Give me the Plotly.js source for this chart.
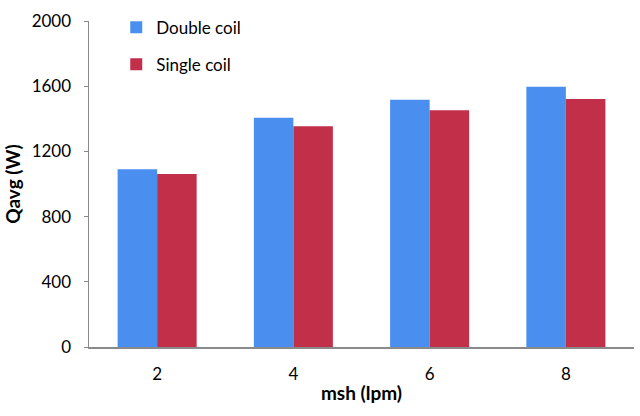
<!DOCTYPE html>
<html><head><meta charset="utf-8">
<script src="https://cdn.plot.ly/plotly-3.0.1.min.js"></script>
<style>html,body{margin:0;padding:0;background:#fff}</style>
</head><body>
<div id="chart" style="width:640px;height:416px"></div>
<script>
var categories = ['2', '4', '6', '8'];
var doubleCoil = [1090, 1407, 1517, 1597];
var singleCoil = [1062, 1354, 1452, 1521];
var yTicks = [0, 400, 800, 1200, 1600, 2000];

var font = 'Lato, Open Sans, sans-serif';
var data = [
  {type: 'bar', name: 'Double coil', x: categories, y: doubleCoil,
   marker: {color: '#4a8ff0'}, legendgroup: 'a'},
  {type: 'bar', name: 'Single coil', x: categories, y: singleCoil,
   marker: {color: '#c22f48'}, legendgroup: 'b'}
];
var layout = {
  width: 640, height: 416,
  margin: {l: 89, r: 6, t: 21, b: 69},
  paper_bgcolor: '#fff', plot_bgcolor: '#fff',
  barmode: 'group', bargap: 0.42, bargroupgap: 0,
  font: {family: font, size: 17, color: '#000'},
  showlegend: true,
  legend: {x: 0.05, y: 1.035, xanchor: 'left', yanchor: 'top',
    font: {family: font, size: 17, color: '#000'},
    tracegroupgap: 12, bgcolor: 'rgba(0,0,0,0)', itemwidth: 30},
  xaxis: {type: 'category', showline: true, linecolor: '#8a8a8a', linewidth: 1.5,
    ticks: '', showgrid: false, zeroline: false, ticklabelstandoff: 11,
    tickfont: {family: font, size: 17},
    title: {text: '<b>msh (lpm)</b>', font: {family: font, size: 19}, standoff: 4}},
  yaxis: {range: [0, 2000], tickvals: yTicks, showline: true, linecolor: '#8a8a8a',
    linewidth: 1.5, ticks: 'outside', ticklen: 4, tickcolor: '#8a8a8a',
    showgrid: false, zeroline: false, ticklabelstandoff: 9,
    tickfont: {family: font, size: 17},
    title: {text: '<b>Qavg (W)</b>', font: {family: font, size: 19}, standoff: 6}}
};
Plotly.newPlot('chart', data, layout, {displayModeBar: false, staticPlot: true});
</script>
</body></html>
